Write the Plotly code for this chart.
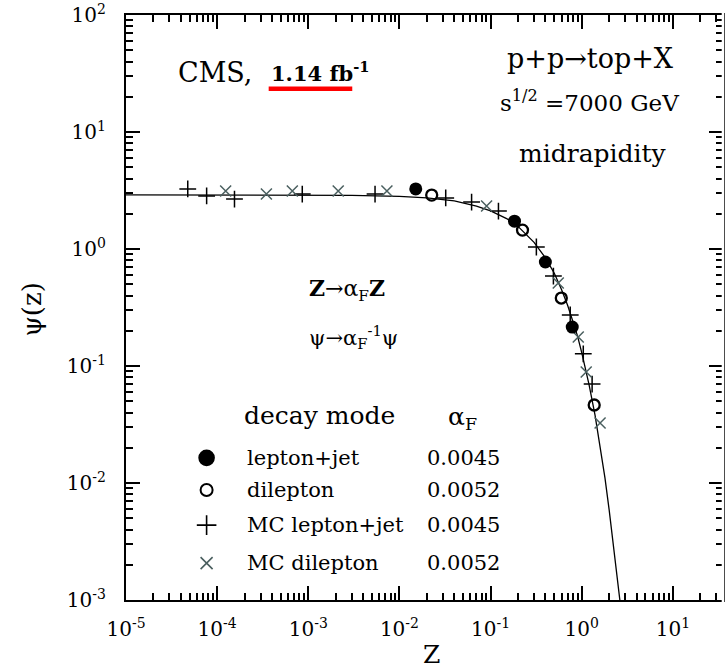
import plotly.graph_objects as go
import numpy as np

# ---- data ----
lj_z = [0.0151, 0.183, 0.399, 0.787]
lj_psi = [3.26, 1.73, 0.774, 0.215]

dl_z = [0.0226, 0.224, 0.597, 1.37]
dl_psi = [2.89, 1.45, 0.381, 0.0464]

mclj_z = [4.76e-5, 7.67e-5, 1.55e-4, 8.59e-4, 5.40e-3, 0.0322, 0.0619, 0.122,
          0.318, 0.489, 0.748, 1.04, 1.30]
mclj_psi = [3.26, 2.84, 2.67, 2.95, 2.95, 2.73, 2.52, 2.11,
            1.04, 0.587, 0.273, 0.127, 0.0701]

mcdl_z = [1.24e-4, 3.47e-4, 6.68e-4, 2.13e-3, 7.29e-3, 0.0904, 0.553, 0.916, 1.12, 1.59]
mcdl_psi = [3.13, 2.95, 3.13, 3.13, 3.13, 2.33, 0.512, 0.177, 0.0889, 0.0326]

curve_z = [1e-5, 1e-4, 1e-3, 0.003, 0.01, 0.02, 0.04, 0.07, 0.1, 0.15, 0.2, 0.3, 0.4,
           0.5, 0.6, 0.7, 0.8, 0.9, 1.0, 1.2, 1.4, 1.6, 1.8, 2.0, 2.2, 2.4, 2.64]
curve_psi = [2.90, 2.90, 2.89, 2.87, 2.82, 2.73, 2.58, 2.33, 2.12, 1.82, 1.56, 1.14, 0.84,
             0.62, 0.45, 0.33, 0.24, 0.18, 0.13, 0.070, 0.038, 0.020, 0.011, 0.0059,
             0.0032, 0.0017, 0.00095]

legend_labels = ["lepton+jet", "dilepton", "MC lepton+jet", "MC dilepton"]
legend_alpha = ["0.0045", "0.0052", "0.0045", "0.0052"]

x_tick_exps = [-5, -4, -3, -2, -1, 0, 1]
y_tick_exps = [-3, -2, -1, 0, 1, 2]

FONT = "DejaVu Serif"
XCOL = "#4a5f5f"

fig = go.Figure()

fig.add_trace(go.Scatter(x=curve_z, y=curve_psi, mode="lines",
                         line=dict(color="black", width=1.3), showlegend=False))
fig.add_trace(go.Scatter(x=mclj_z, y=mclj_psi, mode="markers",
                         marker=dict(symbol="cross-thin", size=12, color="black",
                                     line=dict(color="black", width=1.5)), showlegend=False))
fig.add_trace(go.Scatter(x=mcdl_z, y=mcdl_psi, mode="markers",
                         marker=dict(symbol="x-thin", size=11, color=XCOL,
                                     line=dict(color=XCOL, width=1.5)), showlegend=False))
fig.add_trace(go.Scatter(x=lj_z, y=lj_psi, mode="markers",
                         marker=dict(symbol="circle", size=13, color="black",
                                     line=dict(color="black", width=0)), showlegend=False))
fig.add_trace(go.Scatter(x=dl_z, y=dl_psi, mode="markers",
                         marker=dict(symbol="circle-open", size=11, color="black",
                                     line=dict(color="black", width=2.3)), showlegend=False))

# legend symbols on an overlay axis in paper-like coordinates
leg_y = [0.243, 0.188, 0.128, 0.063]
leg_sym = ["circle", "circle-open", "cross-thin", "x-thin"]
leg_size = [15, 12, 14, 12]
leg_col = ["black", "black", "black", XCOL]
for i in range(4):
    fig.add_trace(go.Scatter(
        x=[0.135], y=[leg_y[i]], xaxis="x2", yaxis="y2", mode="markers",
        marker=dict(symbol=leg_sym[i], size=leg_size[i], color=leg_col[i],
                    line=dict(color=leg_col[i], width=2 if i == 1 else 1.6)),
        showlegend=False))
    fig.add_annotation(x=0.199, y=leg_y[i], xref="paper", yref="paper", text=legend_labels[i],
                       showarrow=False, xanchor="left", yanchor="middle",
                       font=dict(family=FONT, size=21, color="black"))
    fig.add_annotation(x=0.501, y=leg_y[i], xref="paper", yref="paper", text=legend_alpha[i],
                       showarrow=False, xanchor="left", yanchor="middle",
                       font=dict(family=FONT, size=21, color="black"))

fig.add_annotation(x=0.195, y=0.316, xref="paper", yref="paper", text="decay mode",
                   showarrow=False, xanchor="left", yanchor="middle",
                   font=dict(family=FONT, size=25, color="black"))
fig.add_annotation(x=0.536, y=0.311, xref="paper", yref="paper", text="α<sub>F</sub>",
                   showarrow=False, xanchor="left", yanchor="middle",
                   font=dict(family=FONT, size=25, color="black"))

# top-left
fig.add_annotation(x=0.083, y=0.901, xref="paper", yref="paper", text="CMS,",
                   showarrow=False, xanchor="left", yanchor="middle",
                   font=dict(family=FONT, size=27, color="black"))
fig.add_annotation(x=0.240, y=0.903, xref="paper", yref="paper",
                   text="<b>1.14 fb<sup>-1</sup></b>",
                   showarrow=False, xanchor="left", yanchor="middle",
                   font=dict(family=FONT, size=21, color="black"))
fig.add_shape(type="line", xref="paper", yref="paper", x0=0.239, x1=0.379, y0=0.874, y1=0.874,
              line=dict(color="red", width=4.5))

# top-right
fig.add_annotation(x=0.778, y=0.926, xref="paper", yref="paper", text="p+p→top+X",
                   showarrow=False, xanchor="center", yanchor="middle",
                   font=dict(family=FONT, size=27, color="black"))
fig.add_annotation(x=0.776, y=0.853, xref="paper", yref="paper",
                   text="s<sup>1/2</sup> =7000 GeV",
                   showarrow=False, xanchor="center", yanchor="middle",
                   font=dict(family=FONT, size=23, color="black"))
fig.add_annotation(x=0.783, y=0.764, xref="paper", yref="paper", text="midrapidity",
                   showarrow=False, xanchor="center", yanchor="middle",
                   font=dict(family=FONT, size=25, color="black"))

# scaling rules
fig.add_annotation(x=0.304, y=0.530, xref="paper", yref="paper",
                   text="<b>Z</b>→α<sub>F</sub><b>Z</b>",
                   showarrow=False, xanchor="left", yanchor="middle",
                   font=dict(family=FONT, size=22, color="black"))
fig.add_annotation(x=0.304, y=0.450, xref="paper", yref="paper",
                   text="ψ→α<sub>F</sub><sup>-1</sup>ψ",
                   showarrow=False, xanchor="left", yanchor="middle",
                   font=dict(family=FONT, size=21, color="black"))

# axis titles
fig.add_annotation(x=-0.157, y=0.497, xref="paper", yref="paper", text="ψ(z)",
                   showarrow=False, textangle=-90, xanchor="center", yanchor="middle",
                   font=dict(family=FONT, size=26, color="black"))
fig.add_annotation(x=0.511, y=-0.094, xref="paper", yref="paper", text="Z",
                   showarrow=False, xanchor="center", yanchor="middle",
                   font=dict(family=FONT, size=25, color="black"))

# the right frame line lies just beyond the picture edge in the reference
fig.add_shape(type="line", xref="paper", yref="paper", x0=1, x1=1, y0=-0.01, y1=1.01,
              line=dict(color="white", width=2.6), layer="above")

def minor_vals(exps):
    out = []
    for e in range(min(exps), max(exps) + 1):
        for m in range(2, 10):
            out.append(m * 10.0 ** e)
    return out

axis_common = dict(type="log", showline=True, linecolor="black", linewidth=2.2,
                   mirror="ticks", ticks="inside", ticklen=14, tickwidth=1.8,
                   tickcolor="black", showgrid=False, zeroline=False,
                   tickfont=dict(family=FONT, size=20, color="black"))

fig.update_layout(
    width=725, height=670,
    margin=dict(l=126, r=0, t=15, b=70),
    paper_bgcolor="white", plot_bgcolor="white",
    xaxis=dict(range=[-5, 1.55], tickmode="array",
               tickvals=[10.0 ** e for e in x_tick_exps],
               ticktext=["10<sup>%d</sup>" % e for e in x_tick_exps],
               minor=dict(tickmode="array", tickvals=minor_vals([-5, 1]), ticks="inside",
                          ticklen=7, tickwidth=1.5, tickcolor="black"),
               ticklabelstandoff=10,
               **axis_common),
    yaxis=dict(range=[-3, 2], tickmode="array",
               tickvals=[10.0 ** e for e in y_tick_exps],
               ticktext=["10<sup>%d</sup>" % e for e in y_tick_exps],
               minor=dict(tickmode="array", tickvals=minor_vals([-3, 1]), ticks="inside",
                          ticklen=7, tickwidth=1.5, tickcolor="black"),
               ticklabelstandoff=14,
               **axis_common),
    xaxis2=dict(range=[0, 1], overlaying="x", visible=False, domain=[0, 1]),
    yaxis2=dict(range=[0, 1], overlaying="y", visible=False),
)

fig.write_html("out.html")
